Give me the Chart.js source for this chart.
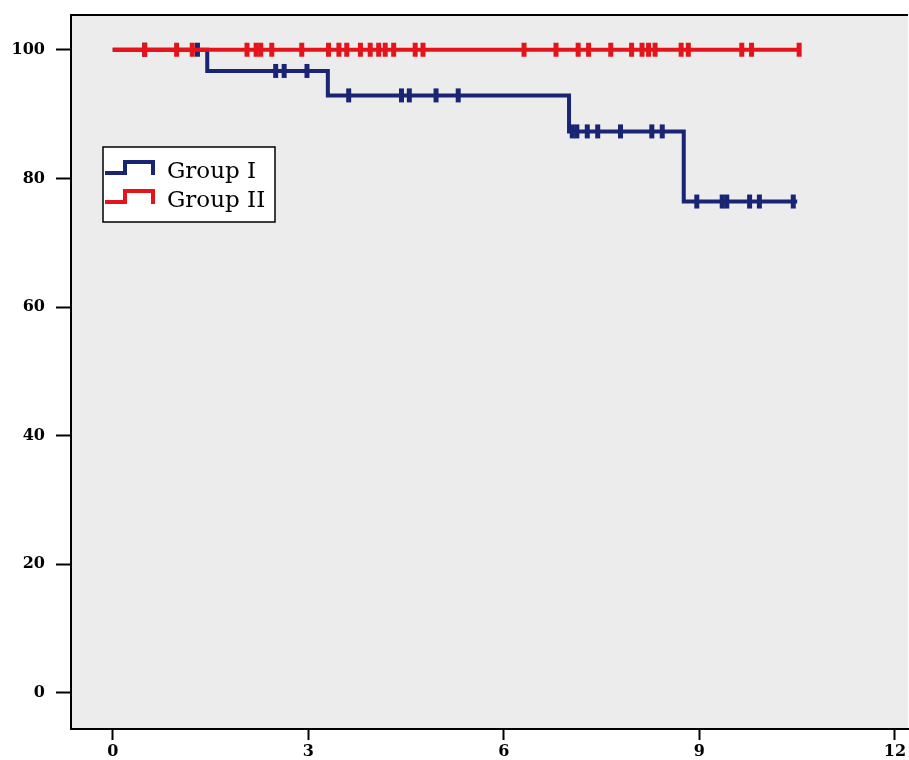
<!DOCTYPE html>
<html>
<head>
<meta charset="utf-8">
<script src="https://cdn.jsdelivr.net/npm/chart.js@4/dist/chart.umd.min.js"></script>
<style>
    html, body { margin: 0; padding: 0; background: #fff; overflow: hidden; }
    #wrap { width: 909px; height: 760px; overflow: hidden; }
</style>
</head>
<body>
<div id="wrap"><canvas id="km" width="920" height="760"></canvas></div>
<script>
// === Data ===
const xTicks = [0, 3, 6, 9, 12];
const yTicks = [0, 20, 40, 60, 80, 100];
const groupNames = ["Group I", "Group II"];

// step curve: time of event, survival after it
const groupITimes = [0, 1.45, 3.3, 7.0, 8.76, 10.5];
const groupISurvival = [100, 96.7, 92.9, 87.3, 76.4, 76.4];
const groupICensored = [0.49, 1.30, 2.50, 2.63, 2.98, 3.62, 4.43, 4.55, 4.96, 5.30,
    7.05, 7.12, 7.28, 7.44, 7.79, 8.27, 8.43, 8.96, 9.35, 9.42, 9.77, 9.92, 10.44];

const groupIITimes = [0, 10.53];
const groupIISurvival = [100, 100];
const groupIICensored = [0.49, 0.98, 1.22, 2.06, 2.20, 2.27, 2.44, 2.90, 3.31, 3.47,
    3.59, 3.80, 3.95, 4.08, 4.18, 4.31, 4.64, 4.76, 6.31, 6.80, 7.14, 7.30, 7.64,
    7.96, 8.12, 8.22, 8.32, 8.72, 8.83, 9.65, 9.80, 10.53];

const colors = ["#1a2474", "#e5141b"];
const serif = "'DejaVu Serif', 'Liberation Serif', serif";

// === Helpers ===
function survivalAt(times, surv, t) {
    let s = surv[0];
    for (let i = 0; i < times.length; i++) {
        if (times[i] <= t) s = surv[i];
    }
    return s;
}

function curve(times, surv) {
    return times.map((t, i) => ({ x: t, y: surv[i] }));
}

function marks(times, surv, cens) {
    return cens.map(t => ({ x: t, y: survivalAt(times, surv, t) }));
}

function lineSet(label, data, color, order) {
    return {
        label, data, order,
        showLine: true,
        borderColor: color,
        borderWidth: 4,
        stepped: "before",
        pointRadius: 0,
        fill: false
    };
}

function markSet(label, data, color, order) {
    return {
        label, data, order,
        showLine: false,
        pointStyle: "line",
        rotation: 90,
        pointRadius: 7,
        pointBorderWidth: 5,
        pointBorderColor: color,
        pointBackgroundColor: color
    };
}

// === Plot background, top frame and legend ===
const framePlugin = {
    id: "frame",
    beforeDraw(chart) {
        const { ctx, chartArea: a } = chart;
        ctx.save();
        ctx.fillStyle = "#ececec";
        ctx.fillRect(a.left, a.top, a.right - a.left, a.bottom - a.top);
        ctx.restore();
    },
    afterDraw(chart) {
        const { ctx, chartArea: a } = chart;
        ctx.save();
        ctx.strokeStyle = "#000";
        ctx.lineWidth = 2;
        ctx.beginPath();
        ctx.moveTo(a.left, a.top);
        ctx.lineTo(a.right, a.top);
        ctx.stroke();

        // legend box
        const bx = 103, by = 147, bw = 172, bh = 75;
        ctx.fillStyle = "#fff";
        ctx.fillRect(bx, by, bw, bh);
        ctx.lineWidth = 1.5;
        ctx.strokeRect(bx, by, bw, bh);

        groupNames.forEach((name, i) => {
            const base = 173 + i * 29;
            ctx.strokeStyle = colors[i];
            ctx.lineWidth = 4;
            ctx.beginPath();
            ctx.moveTo(105, base);
            ctx.lineTo(125, base);
            ctx.lineTo(125, base - 11);
            ctx.lineTo(153, base - 11);
            ctx.lineTo(153, base + 2);
            ctx.stroke();
            ctx.fillStyle = "#000";
            ctx.font = "23px " + serif;
            ctx.textBaseline = "alphabetic";
            ctx.fillText(name, 167, base + 5);
        });
        ctx.restore();
    }
};

const tickFont = { family: serif, size: 16, weight: "bold" };

new Chart(document.getElementById("km"), {
    type: "scatter",
    data: {
        datasets: [
            lineSet(groupNames[0], curve(groupITimes, groupISurvival), colors[0], 4),
            markSet(groupNames[0] + " censored", marks(groupITimes, groupISurvival, groupICensored), colors[0], 3),
            lineSet(groupNames[1], curve(groupIITimes, groupIISurvival), colors[1], 2),
            markSet(groupNames[1] + " censored", marks(groupIITimes, groupIISurvival, groupIICensored), colors[1], 1)
        ]
    },
    options: {
        responsive: false,
        animation: false,
        devicePixelRatio: 1,
        layout: { padding: { top: 15, right: 0, left: 0, bottom: 0 } },
        plugins: {
            legend: { display: false },
            tooltip: { enabled: false }
        },
        scales: {
            x: {
                type: "linear",
                min: -0.64,
                max: 12.2,
                afterBuildTicks: s => { s.ticks = xTicks.map(v => ({ value: v })); },
                afterFit: s => { s.height = 31; },
                border: { display: true, color: "#000", width: 2 },
                grid: { drawOnChartArea: false, drawTicks: true, tickLength: 11, tickWidth: 2, tickColor: "#000" },
                ticks: { color: "#000", font: tickFont, padding: 2, maxRotation: 0 }
            },
            y: {
                type: "linear",
                min: -5.6,
                max: 105.4,
                afterBuildTicks: s => { s.ticks = yTicks.map(v => ({ value: v })); },
                afterFit: s => { s.width = 71; s.paddingTop = 0; s.paddingBottom = 0; },
                border: { display: true, color: "#000", width: 2 },
                grid: { drawOnChartArea: false, drawTicks: true, tickLength: 15, tickWidth: 2, tickColor: "#000" },
                ticks: { color: "#000", font: tickFont, padding: 11 }
            }
        }
    },
    plugins: [framePlugin]
});
</script>
</body>
</html>
